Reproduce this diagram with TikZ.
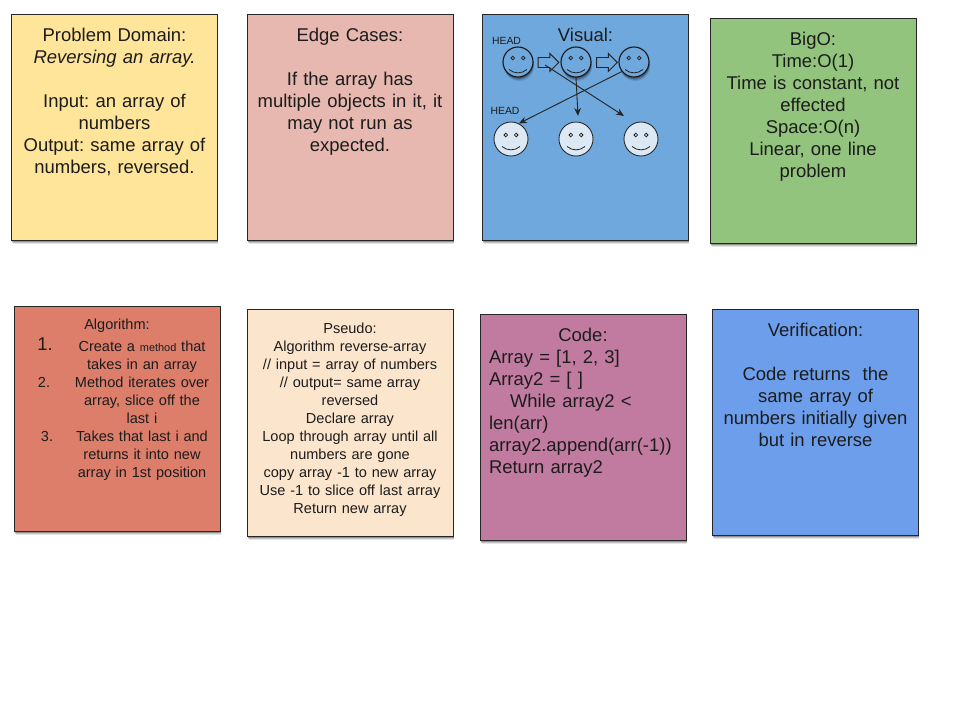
\documentclass[tikz,border=0pt]{standalone}
\usepackage{fontspec}
\setmainfont{Liberation Sans}
\usetikzlibrary{shadows,shapes.arrows,arrows.meta,calc}
\definecolor{cyellow}{HTML}{FFE599}
\definecolor{cpink}{HTML}{E6B8AF}
\definecolor{cblue}{HTML}{6FA8DC}
\definecolor{cgreen}{HTML}{93C47D}
\definecolor{cred}{HTML}{DD7E6B}
\definecolor{cpeach}{HTML}{FCE5CD}
\definecolor{cpurple}{HTML}{C27BA0}
\definecolor{cblueb}{HTML}{6D9EEB}
\definecolor{ink}{HTML}{1C1C1C}
\definecolor{facelight}{HTML}{DCE8F4}
\tikzset{
  softshadow/.style={
    preaction={draw=none,fill=black,fill opacity=.10,transform canvas={xshift=.9pt,yshift=-3pt}},
    preaction={draw=none,fill=black,fill opacity=.15,transform canvas={xshift=.6pt,yshift=-2.2pt}},
    preaction={draw=none,fill=black,fill opacity=.25,transform canvas={xshift=.3pt,yshift=-1.4pt}}},
  card/.style={softshadow,draw=black!85,line width=.7pt,anchor=north west,inner sep=0,minimum width=154.35pt},
  bigtxt/.style={anchor=north,inner sep=0,text=ink,align=center,text width=152pt,font=\fontsize{13.85}{16.5}\selectfont\frenchspacing},
  smalltxt/.style={anchor=north,inner sep=0,text=ink,align=center,text width=112pt,font=\fontsize{10.9}{13.5}\selectfont\frenchspacing},
  headtxt/.style={inner sep=0,text=ink,font=\fontsize{7.8}{9}\selectfont},
  facetop/.style={softshadow,circle,draw=black!90,line width=.85pt,fill=cblue,minimum size=22.5pt,inner sep=0},
  facebot/.style={circle,draw=black!85,line width=.65pt,fill=facelight,minimum size=25.5pt,inner sep=0},
  facepart/.style={draw=black!85,line width=.6pt},
  blockarrow/.style={single arrow,draw=black!85,line width=.7pt,fill=cblue,inner xsep=0,inner ysep=3.4pt,minimum height=15.5pt,
    single arrow head extend=3pt,single arrow tip angle=90},
  conn/.style={draw=black!85,line width=.7pt,-{Stealth[length=6pt,width=5pt]}},
}
\newcommand{\smiley}[5]{% name, x, y, style, halfwidth
  \node[#4] (#1) at (#2,#3) {};
  \begin{scope}[shift={(#2,#3)}]
    \draw[facepart] (-#5*0.58,-4) circle (1.8);
    \draw[facepart] (#5*0.58,-4) circle (1.8);
    \draw[facepart] (-#5,7.5) .. controls (-#5*0.4,12) and (#5*0.4,12) .. (#5,7.5);
  \end{scope}}
\begin{document}
\begin{tikzpicture}[x=.75pt,y=-.75pt]
\useasboundingbox (0,0) rectangle (960,720);
\node[card,fill=cyellow,minimum height=169.3pt] (yellow) at (11,14) {};
\node[card,fill=cpink,minimum height=169.3pt] (pink) at (247,14) {};
\node[card,fill=cblue,minimum height=169.3pt] (blue) at (482,14) {};
\node[card,fill=cgreen,minimum height=168.5pt] (green) at (710,18) {};
\node[card,fill=cred,minimum height=168.5pt] (red) at (14,306) {};
\node[card,fill=cpeach,minimum height=170pt] (peach) at (247,309) {};
\node[card,fill=cpurple,minimum height=169.3pt] (purple) at (480,314) {};
\node[card,fill=cblueb,minimum height=169.3pt] (blueb) at (712,309) {};

\node[bigtxt] (tyellow) at (114.5,26) {\strut Problem Domain:\\\textit{Reversing an array.}\\[16.5pt]Input: an array of\\numbers\\Output: same array of\\numbers, reversed.};
\node[bigtxt] (tpink) at (350,26) {\strut Edge Cases:\\[16.5pt]If the array has\\multiple objects in it, it\\may not run as\\expected.};
\node[bigtxt] (tvisual) at (585.5,26) {\strut Visual:};
\node[bigtxt] (tgreen) at (813,30) {\strut BigO:\\Time:O(1)\\Time is constant, not\\effected\\Space:O(n)\\Linear, one line\\problem};
\node[bigtxt] (tblueb) at (815.5,321) {\strut Verification:\\[16.5pt]Code returns\ \ the\\same array of\\numbers initially given\\but in reverse};
\node[bigtxt,align=left,text width=141pt] (tpurple) at (583,326) {\strut\makebox[\linewidth][c]{Code:}\\Array = [1, 2, 3]\\Array2 = [ ]\\\hspace*{15.75pt}While array2 <\\len(arr)\\array2.append(arr(-1))\\Return array2};
\node[smalltxt,text width=150pt] (tpeach) at (350,321) {\strut Pseudo:\\Algorithm reverse-array\\// input = array of numbers\\// output= same array\\reversed\\Declare array\\Loop through array until all\\numbers are gone\\copy array -1 to new array\\Use -1 to slice off last array\\Return new array};
\node[smalltxt,text width=150pt] (talg) at (117,317) {\strut Algorithm:};
\node[smalltxt] (tsteps) at (142,339) {\strut Create a {\fontsize{8.2}{13.5}\selectfont method} that\\takes in an array\\Method iterates over\\array, slice off the\\last i\\Takes that last i and\\returns it into new\\array in 1st position};
\node[bigtxt,text width=20pt] (n1) at (45,335) {\strut 1.};
\node[smalltxt,text width=20pt] (n2) at (44,375) {\strut 2.};
\node[smalltxt,text width=20pt] (n3) at (47,429) {\strut 3.};

\node[headtxt] (head1) at (506.5,40.5) {HEAD};
\node[headtxt] (head2) at (505,110.5) {HEAD};
\smiley{f1}{518}{62}{facetop}{9}
\smiley{f2}{576}{62}{facetop}{9}
\smiley{f3}{634}{62}{facetop}{9}
\smiley{g1}{511}{139}{facebot}{9}
\smiley{g2}{576}{139}{facebot}{9}
\smiley{g3}{641}{139}{facebot}{9}
\node[blockarrow] (a1) at (546,62.5) {};
\node[blockarrow] (a2) at (604.5,62.5) {};
\coordinate (s3) at (545,65);
\coordinate (t2) at (578,116);
\coordinate (t3) at (624,116);
\draw[conn] (s3) -- (t3);
\draw[conn] (f2.south) -- (t2);
\draw[conn] (f3.218) -- (g1.63);
\end{tikzpicture}
\end{document}
